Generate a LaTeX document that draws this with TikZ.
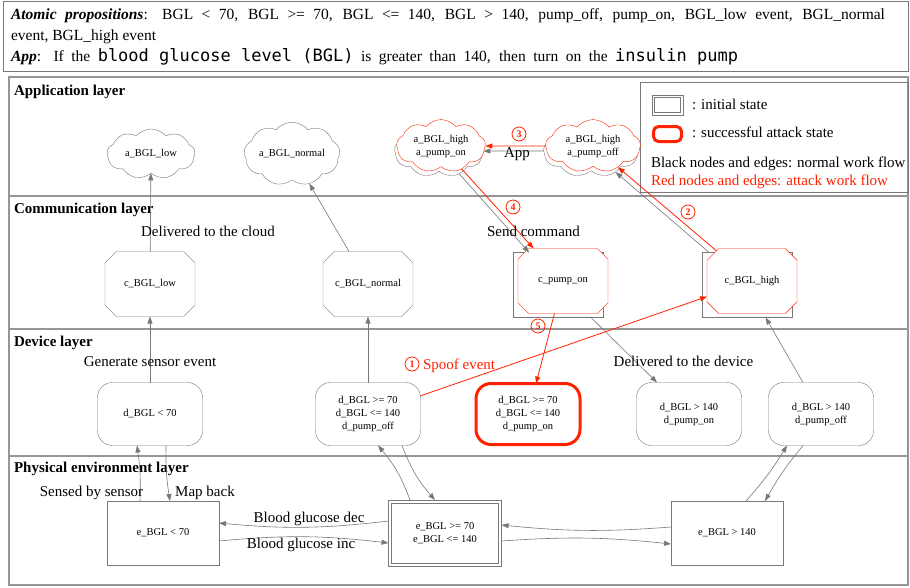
\documentclass[tikz,border=0pt]{standalone}
\usepackage{fontspec}
\setmainfont{Liberation Serif}
\newfontfamily\monofont{DejaVu Sans Mono}
\usetikzlibrary{shapes.symbols,shapes.misc,arrows.meta,calc}
\definecolor{edgegray}{RGB}{120,120,120}
\definecolor{framegray}{RGB}{150,150,150}
\definecolor{atk}{RGB}{255,34,0}
\begin{document}
\begin{tikzpicture}[x=1pt,y=-1pt,
  every node/.style={inner sep=0pt, outer sep=0pt},
  lbl/.style={font=\fontsize{15}{18}\selectfont},
  toptxt/.style={font=\fontsize{15.5}{21}\selectfont, anchor=base west},
  ttl/.style={font=\fontsize{15}{18}\selectfont\bfseries, anchor=base west},
  nlbl/.style={font=\fontsize{10.5}{13}\selectfont, align=center},
  cloudnode/.style={cloud, cloud puffs=9, cloud puff arc=100, aspect=1.8, draw=edgegray, fill=white, minimum width=88pt, minimum height=48pt, nlbl},
  octnode/.style={chamfered rectangle, chamfered rectangle xsep=7pt, chamfered rectangle ysep=7pt, draw=edgegray, fill=white, minimum width=90pt, minimum height=65pt, nlbl},
  devnode/.style={rectangle, rounded corners=15pt, draw=edgegray, fill=white, minimum width=105pt, minimum height=63pt, nlbl},
  envnode/.style={rectangle, draw=edgegray, fill=white, minimum width=112pt, minimum height=64pt, nlbl},
  gedge/.style={draw=edgegray, line width=0.6pt, -{Triangle[length=7pt,width=5pt]}},
  redge/.style={draw=atk, line width=0.8pt, -{Triangle[length=7pt,width=5pt]}},
  num/.style={circle, draw=atk, text=atk, line width=0.8pt, minimum size=14pt, font=\fontsize{10}{10}\selectfont\bfseries}
]
\useasboundingbox (0,0) rectangle (910,587);
\fill[white] (0,0) rectangle (910,587);

% top text box
\draw[edgegray, line width=1pt] (3,1) rectangle (908,71);
\node[toptxt] (t1) at (11,19) {\hbox to 874pt{\textbf{\textit{Atomic propositions}}: BGL < 70, BGL >= 70, BGL <= 140, BGL > 140, pump\_off, pump\_on, BGL\_low event, BGL\_normal}};
\node[toptxt] (t2) at (11,40) {event, BGL\_high event};
\node[toptxt] (t3) at (11,61) {\hbox to 727pt{\textbf{\textit{App}}: If the \mbox{\fontsize{17}{21}\monofont blood glucose level (BGL)} is greater than 140, then turn on the \mbox{\fontsize{17}{21}\monofont insulin pump}}};

% layer frame
\draw[framegray, line width=1.5pt] (9,77) rectangle (908,585);
\draw[framegray, line width=1.5pt] (9,196) -- (908,196);
\draw[framegray, line width=1.5pt] (9,329) -- (908,329);
\draw[framegray, line width=1.5pt] (9,456) -- (908,456);
\node[ttl] (l1) at (14,95) {Application layer};
\node[ttl] (l2) at (14,213) {Communication layer};
\node[ttl] (l3) at (14,346) {Device layer};
\node[ttl] (l4) at (14,472) {Physical environment layer};

% legend
\draw[edgegray, line width=1pt] (640,82) rectangle (908,192);
\node[draw=edgegray, minimum width=31pt, minimum height=20pt] (legi) at (667.5,105) {};
\draw[edgegray] ($(legi.north west)+(2.5,2.5)$) rectangle ($(legi.south east)+(-2.5,-2.5)$);
\node[lbl, anchor=base west] (legit) at (692,109) {: initial state};
\node[draw=atk, line width=3pt, rounded corners=5pt, minimum width=28pt, minimum height=15pt] (lega) at (667.5,134) {};
\node[lbl, anchor=base west] (legat) at (692,137) {: successful attack state};
\node[lbl, anchor=base west] (legb) at (651,167) {Black nodes and edges: normal work flow};
\node[lbl, anchor=base west, text=atk] (legr) at (651,185) {Red nodes and edges: attack work flow};

% application layer
\node[cloudnode] (alow) at (151,154) {a\_BGL\_low};
\node[cloudnode] (anorm) at (292,154) {a\_BGL\_normal};
\node[cloudnode, minimum width=89pt, minimum height=52pt] (aonS) at (439,151) {};
\node[cloudnode, draw=atk, minimum width=89pt, minimum height=52pt] (aon) at (441,146) {a\_BGL\_high\\a\_pump\_on};
\node[cloudnode, minimum width=95pt, minimum height=52pt] (aoffS) at (591,151) {};
\node[cloudnode, draw=atk, minimum width=95pt, minimum height=52pt] (aoff) at (593,146) {a\_BGL\_high\\a\_pump\_off};

% communication layer
\node[octnode] (clow) at (150,284) {c\_BGL\_low};
\node[octnode] (cnorm) at (368,284) {c\_BGL\_normal};
\node[octnode] (cponS) at (558,285) {};
\node[octnode, draw=atk] (cpon) at (563,281) {c\_pump\_on};
\node[octnode] (chighS) at (747,285) {};
\node[octnode, draw=atk] (chigh) at (752,281) {c\_BGL\_high};

% device layer
\node[devnode] (dlow) at (150,414) {d\_BGL < 70};
\node[devnode] (dpoff) at (368,414) {d\_BGL >= 70\\d\_BGL <= 140\\d\_pump\_off};
\node[devnode, draw=atk, line width=3pt, minimum width=104pt, minimum height=61pt] (dpon) at (528,414) {d\_BGL >= 70\\d\_BGL <= 140\\d\_pump\_on};
\node[devnode] (dhon) at (689,414) {d\_BGL > 140\\d\_pump\_on};
\node[devnode] (dhoff) at (821,414) {d\_BGL > 140\\d\_pump\_off};

% physical layer
\node[envnode] (elow) at (163,533) {e\_BGL < 70};
\node[envnode, minimum width=113pt, minimum height=66pt] (enorm) at (445,533) {e\_BGL >= 70\\e\_BGL <= 140};
\draw[edgegray] ($(enorm.north west)+(3,3)$) rectangle ($(enorm.south east)+(-3,-3)$);
\node[envnode] (ehigh) at (727,533) {e\_BGL > 140};

% normal edges
\draw[gedge] (clow) -- (alow);
\draw[gedge] (cnorm) -- (anorm);
\draw[gedge] (dlow) -- (clow);
\draw[gedge] (dpoff) -- (cnorm);
\draw[gedge] (aoffS.west) -- (aonS.east);
\draw[gedge] (aonS) -- (cponS);
\draw[gedge] (chighS) -- (aoffS);
\draw[gedge] (cponS) -- (dhon);
\draw[gedge] (dhoff) -- (chighS);

\draw[gedge] ($(elow.north)+(-23,0)$) to[bend right=5] ($(dlow.south)+(-13,0)$);
\draw[gedge] ($(dlow.south)+(16,0)$) to[bend right=5] ($(elow.north)+(7,0)$);
\draw[gedge] ($(enorm.north)+(-35,0)$) to[bend right=10] ($(dpoff.south)+(10,0)$);
\draw[gedge] ($(dpoff.south)+(34,0)$) to[bend right=10] ($(enorm.north)+(-10,0)$);
\draw[gedge] ($(ehigh.north)+(19,0)$) to[bend right=5] ($(dhoff.south)+(-34,0)$);
\draw[gedge] ($(dhoff.south)+(-18,0)$) to[bend right=5] ($(ehigh.north)+(38,0)$);

\draw[gedge] ($(enorm.west)+(0,-12)$) to[bend left=6] ($(elow.east)+(0,-10)$);
\draw[gedge] ($(elow.east)+(0,8)$) to[bend left=6] ($(enorm.west)+(0,10)$);
\draw[gedge] ($(ehigh.west)+(0,-6)$) to[bend left=5] ($(enorm.east)+(0,-8)$);
\draw[gedge] ($(enorm.east)+(0,8)$) to[bend left=5] ($(ehigh.west)+(0,11)$);

% attack edges
\draw[redge] (aoff.west) -- (aon.east);
\draw[redge] (aon) -- (cpon);
\draw[redge] (chigh) -- (aoff);
\draw[redge] (cpon) -- (dpon);
\draw[redge] (dpoff) -- (chigh);

% edge labels
\node[lbl, anchor=base] (lcloud) at (208,236) {Delivered to the cloud};
\node[lbl, anchor=base] (lsend) at (533.5,236) {Send command};
\node[lbl, anchor=base] (lgen) at (150,366) {Generate sensor event};
\node[lbl, anchor=base] (ldev) at (683.5,366) {Delivered to the device};
\node[lbl, anchor=base] (lapp) at (517,157) {App};
\node[lbl, anchor=base] (lsens) at (91.5,496) {Sensed by sensor};
\node[lbl, anchor=base] (lmap) at (205,496) {Map back};
\node[lbl, anchor=base] (ldec) at (309,522) {Blood glucose dec};
\node[lbl, anchor=base] (linc) at (301,548) {Blood glucose inc};
\node[lbl, anchor=base west, text=atk] (lspoof) at (423,369) {Spoof event};

\node[num] (n1) at (412,364) {1};
\node[num] (n2) at (688,212) {2};
\node[num] (n3) at (519,134) {3};
\node[num] (n4) at (513,207) {4};
\node[num] (n5) at (538,326) {5};
\end{tikzpicture}
\end{document}
